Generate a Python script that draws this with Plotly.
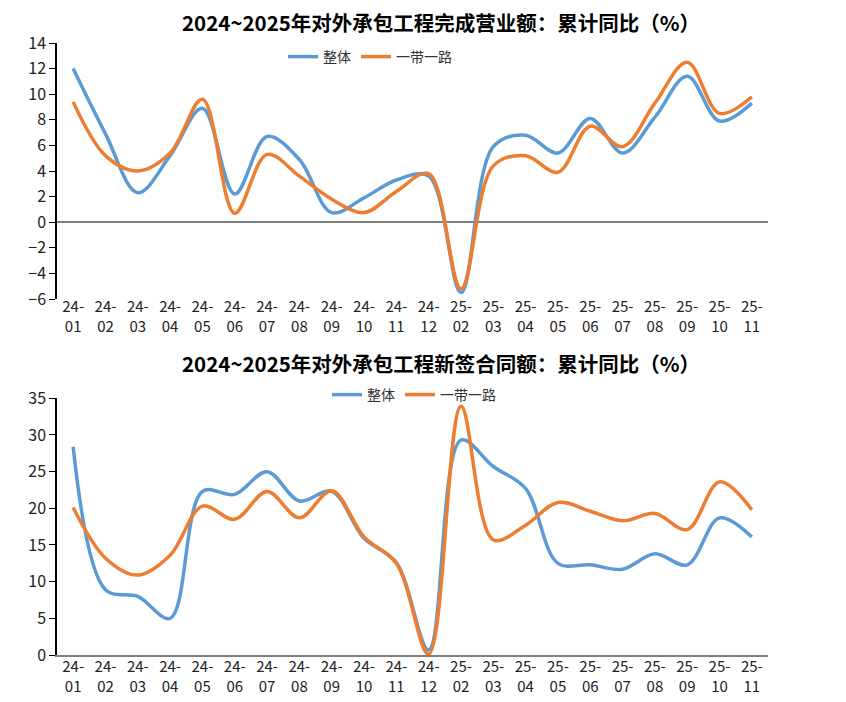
import plotly.graph_objects as go

categories = ["24-<br>01", "24-<br>02", "24-<br>03", "24-<br>04", "24-<br>05", "24-<br>06",
              "24-<br>07", "24-<br>08", "24-<br>09", "24-<br>10", "24-<br>11", "24-<br>12",
              "25-<br>02", "25-<br>03", "25-<br>04", "25-<br>05", "25-<br>06", "25-<br>07",
              "25-<br>08", "25-<br>09", "25-<br>10", "25-<br>11"]

rev_total = [12.0, 6.9, 2.3, 5.2, 8.9, 2.2, 6.7, 4.9, 0.75, 1.9, 3.3, 3.6,
             -5.5, 5.9, 6.8, 5.4, 8.1, 5.4, 8.2, 11.4, 7.9, 9.3]
rev_bri = [9.4, 5.2, 4.0, 5.4, 9.6, 0.7, 5.3, 3.6, 1.8, 0.75, 2.4, 3.8,
           -5.2, 4.4, 5.2, 3.9, 7.5, 5.9, 9.3, 12.5, 8.5, 9.8]

new_total = [28.4, 8.9, 8.0, 5.0, 22.3, 21.9, 25.0, 21.0, 22.3, 15.9, 12.6, 0.7,
             29.3, 25.7, 22.7, 12.5, 12.3, 11.7, 13.8, 12.3, 18.7, 16.1]
new_bri = [20.1, 13.2, 10.9, 13.6, 20.3, 18.5, 22.3, 18.7, 22.4, 16.1, 12.5, 0.1,
           33.9, 15.7, 17.7, 20.8, 19.6, 18.3, 19.3, 17.1, 23.6, 19.8]

title_top = "2024~2025年对外承包工程完成营业额：累计同比（%）"
title_bottom = "2024~2025年对外承包工程新签合同额：累计同比（%）"
name_total = "整体"
name_bri = "一带一路"

BLUE = "#5B9BD5"
ORANGE = "#ED7D31"
FONT = "Noto Sans CJK SC"
OFF = 8  # page body margin
W, H = 846 - 2 * OFF, 702 - 2 * OFF

def px_(p):
    return (p - OFF) / W

def py(p):
    return (H - (p - OFF)) / H

fig = go.Figure()
line_kw = dict(mode="lines", line_shape="spline")
fig.add_trace(go.Scatter(x=categories, y=rev_total, name=name_total, xaxis="x", yaxis="y",
                         line=dict(color=BLUE, width=3.5, smoothing=1), legend="legend", **line_kw))
fig.add_trace(go.Scatter(x=categories, y=rev_bri, name=name_bri, xaxis="x", yaxis="y",
                         line=dict(color=ORANGE, width=3.5, smoothing=1), legend="legend", **line_kw))
fig.add_trace(go.Scatter(x=categories, y=new_total, name=name_total, xaxis="x2", yaxis="y2",
                         line=dict(color=BLUE, width=3.5, smoothing=1), legend="legend2", **line_kw))
fig.add_trace(go.Scatter(x=categories, y=new_bri, name=name_bri, xaxis="x2", yaxis="y2",
                         line=dict(color=ORANGE, width=3.5, smoothing=1), legend="legend2", **line_kw))

xdom = [px_(57), px_(768)]
ytickfont = dict(family=FONT, size=16, color="#222222")
xtickfont = dict(family=FONT, size=15, color="#222222")

xcommon = dict(domain=xdom, type="category", range=[-0.5, len(categories) - 0.5],
               showgrid=False, ticks="", tickfont=xtickfont, ticklabelstandoff=-3,
               tickangle=0, automargin=False, fixedrange=True)
ycommon = dict(showgrid=False, showline=True, linecolor="#000000", linewidth=1.5,
               ticks="outside", ticklen=6, tickcolor="#000000", tickfont=ytickfont,
               automargin=False)

fig.update_layout(
    width=W, height=H,
    margin=dict(l=0, r=0, t=0, b=0),
    paper_bgcolor="white", plot_bgcolor="white",
    font=dict(family=FONT, color="#222222"),
    xaxis=dict(anchor="y", showline=False, **xcommon),
    yaxis=dict(anchor="x", domain=[py(299), py(43)], range=[-6, 14], dtick=2,
               zeroline=True, zerolinecolor="#808080", zerolinewidth=2, **ycommon),
    xaxis2=dict(anchor="y2", showline=True, linecolor="#808080", linewidth=2, **xcommon),
    yaxis2=dict(anchor="x2", domain=[py(655), py(398.3)], range=[0, 35], dtick=5,
                zeroline=False, **ycommon),
    legend=dict(orientation="h", x=px_(370), y=py(57), xanchor="center", yanchor="middle",
                font=dict(family=FONT, size=14, color="#333333"), bgcolor="rgba(0,0,0,0)",
                itemwidth=30, tracegroupgap=0),
    legend2=dict(orientation="h", x=px_(414), y=py(395), xanchor="center", yanchor="middle",
                 font=dict(family=FONT, size=14, color="#333333"), bgcolor="rgba(0,0,0,0)",
                 itemwidth=30, tracegroupgap=0),
    annotations=[
        dict(text="<b>" + title_top + "</b>", x=px_(441), y=py(22), xref="paper", yref="paper",
             xanchor="center", yanchor="middle", showarrow=False,
             font=dict(family=FONT, size=20.5, color="#000000")),
        dict(text="<b>" + title_bottom + "</b>", x=px_(441), y=py(363), xref="paper", yref="paper",
             xanchor="center", yanchor="middle", showarrow=False,
             font=dict(family=FONT, size=20.5, color="#000000")),
    ],
)

fig.write_html("out.html")
